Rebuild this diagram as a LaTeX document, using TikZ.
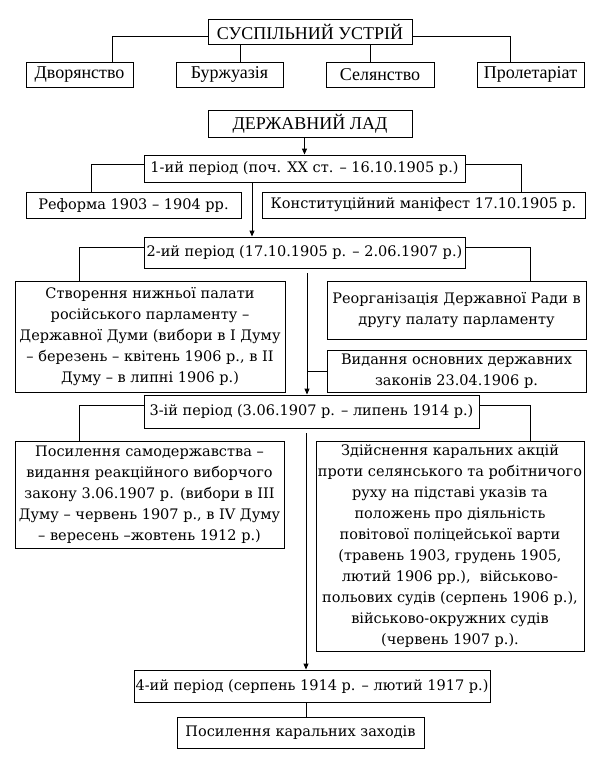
\documentclass[tikz,border=0pt]{standalone}
\usepackage{fontspec}
\setmainfont{Liberation Serif}
\newfontfamily\dvserif{DejaVu Serif}
\usetikzlibrary{arrows.meta}

\begin{document}
\begin{tikzpicture}[x=1pt, y=-1pt,
  box/.style={rectangle, draw=black, line width=0.9pt, inner sep=0pt,
    align=center},
  topnd/.style={box, font=\fontsize{18}{21}\selectfont},
  nd/.style={box, font=\dvserif\fontsize{14.5}{21}\selectfont},
  ln/.style={line width=0.9pt, black},
  arr/.style={ln, -{Triangle[length=6pt, width=5pt]}},
]
  \useasboundingbox (0,0) rectangle (599,763);

  % social order
  \node[topnd, minimum width=204pt, minimum height=25pt] (soc) at (310,31.5) {СУСПІЛЬНИЙ УСТРІЙ};
  \node[topnd, minimum width=107pt, minimum height=25pt] (dvor) at (79.5,74.5) {Дворянство};
  \node[topnd, minimum width=107pt, minimum height=25pt] (burzh) at (229.5,74.5) {Буржуазія};
  \node[topnd, minimum width=108pt, minimum height=25pt] (sel) at (380,74.5) {Селянство};
  \node[topnd, minimum width=107pt, minimum height=25pt] (prol) at (530.5,74.5) {Пролетаріат};

  \draw[ln] ([yshift=-4.5pt]soc.west) -| ([xshift=32.5pt]dvor.north);
  \draw[ln] ([yshift=-4.5pt]soc.east) -| ([xshift=-20.5pt]prol.north);
  \draw[ln] (soc.south -| 240,0) -- ([xshift=10.5pt]burzh.north);
  \draw[ln] (soc.south -| 370,0) -- ([xshift=-10pt]sel.north);

  % state order
  \node[topnd, minimum width=204pt, minimum height=27pt] (gov) at (310,123.5) {ДЕРЖАВНИЙ ЛАД};

  % 1st period
  \node[nd, minimum width=321pt, minimum height=27pt] (per1) at (304.5,168.5) {1-ий період (поч. XX ст. – 16.10.1905 р.)};
  \node[nd, minimum width=215pt, minimum height=26pt] (reform) at (133.5,205) {Реформа 1903 – 1904 рр.};
  \node[nd, minimum width=323pt, minimum height=26pt] (manif) at (423.5,205) {Конституційний маніфест 17.10.1905 р.};

  \draw[arr] (gov.south -| per1.north) -- (per1.north);
  \draw[ln] ([yshift=4.5pt]per1.west) -| ([xshift=-42.5pt]reform.north);
  \draw[ln] ([yshift=4.5pt]per1.east) -| ([xshift=97.5pt]manif.north);

  % 2nd period
  \node[nd, minimum width=321pt, minimum height=31pt] (per2) at (304.5,252.5) {2-ий період (17.10.1905 р. – 2.06.1907 р.)};
  \node[nd, minimum width=270pt, minimum height=111pt] (duma) at (150,336.5)
    {Створення нижньої палати\\російського парламенту –\\Державної Думи (вибори в І Думу\\– березень – квітень 1906 р., в ІІ\\Думу – в липні 1906 р.)};
  \node[nd, minimum width=259pt, minimum height=58pt] (rada) at (456.5,310)
    {Реорганізація Державної Ради в\\другу палату парламенту};
  \node[nd, minimum width=259pt, minimum height=42pt] (zakon) at (456.5,371)
    {Видання основних державних\\законів 23.04.1906 р.};

  \draw[arr] (per1.south -| 252,0) -- (per2.north -| 252,0);
  \draw[ln] ([yshift=5.5pt]per2.west) -| ([xshift=-71pt]duma.north);
  \draw[ln] ([yshift=5.5pt]per2.east) -| ([xshift=73.5pt]rada.north);

  % 3rd period
  \node[nd, minimum width=335pt, minimum height=33pt] (per3) at (311.5,411.5) {3-ій період (3.06.1907 р. – липень 1914 р.)};
  \node[nd, minimum width=269pt, minimum height=107pt] (samod) at (149.5,494.5)
    {Посилення самодержавства –\\видання реакційного виборчого\\закону 3.06.1907 р. (вибори в ІІІ\\Думу – червень 1907 р., в IV Думу\\– вересень –жовтень 1912 р.)};
  \node[nd, minimum width=268pt, minimum height=210pt] (karal) at (450,546)
    {Здійснення каральних акцій\\проти селянського та робітничого\\руху на підставі указів та\\положень про діяльність\\повітової поліцейської варти\\(травень 1903, грудень 1905,\\лютий 1906 рр.),\ \ військово-\\польових судів (серпень 1906 р.),\\військово-окружних судів\\(червень 1907 р.).};

  \coordinate (spine2) at (307,273);
  \draw[arr] (spine2) -- (spine2 |- per3.north);
  \draw[ln] (zakon.west) -- (zakon.west -| spine2);
  \draw[ln] ([yshift=6.5pt]per3.west) -| ([xshift=-70.5pt]samod.north);
  \draw[ln] ([yshift=6.5pt]per3.east) -| ([xshift=80pt]karal.north);

  % 4th period
  \node[nd, minimum width=356pt, minimum height=32pt] (per4) at (312,686) {4-ий період (серпень 1914 р. – лютий 1917 р.)};
  \node[nd, minimum width=247pt, minimum height=31pt] (zakhody) at (300.5,732.5) {Посилення каральних заходів};

  \coordinate (spine3) at (306,433);
  \draw[arr] (spine3) -- (spine3 |- per4.north);
  \draw[ln] (per4.south -| spine3) -- (zakhody.north -| spine3);
\end{tikzpicture}
\end{document}
